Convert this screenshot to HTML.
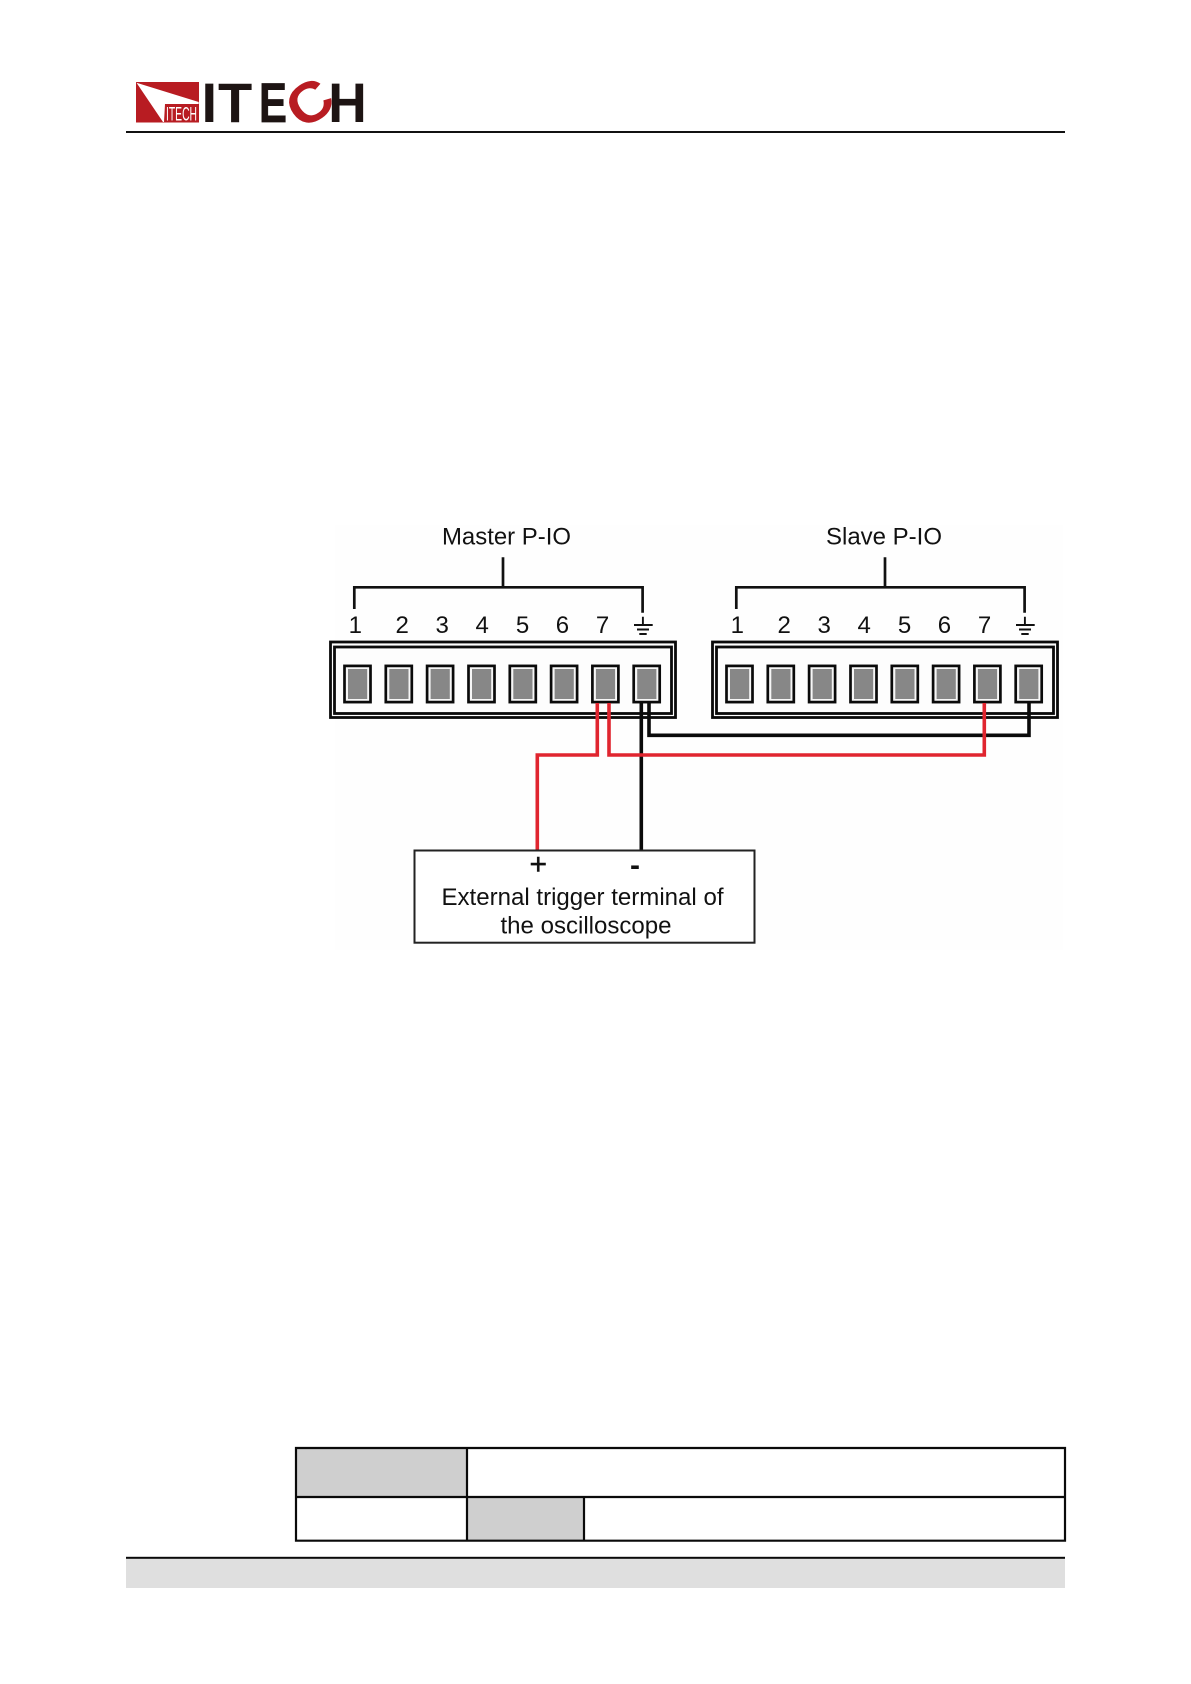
<!DOCTYPE html>
<html>
<head>
<meta charset="utf-8">
<style>
html,body{margin:0;padding:0;background:#fff;}
svg{display:block;}
text{font-family:"Liberation Sans",sans-serif;fill:#111;}
</style>
</head>
<body>
<svg width="1191" height="1684" viewBox="0 0 1191 1684" xmlns="http://www.w3.org/2000/svg">
<defs>
<g id="pin">
  <rect x="1.2" y="1.2" width="26" height="36.2" fill="#f6f6f6" stroke="#0a0a0a" stroke-width="2.7"/>
  <rect x="4.7" y="4.3" width="19.2" height="30" fill="#878787"/>
</g>
<g id="conn">
  <rect x="330.5" y="642" width="345" height="75.5" fill="#fdfdfd" stroke="#0a0a0a" stroke-width="2.8"/>
  <rect x="334.5" y="647" width="337" height="66.5" fill="#fdfdfd" stroke="#0a0a0a" stroke-width="2.8"/>
  <use href="#pin" x="343.3" y="664.7"/>
  <use href="#pin" x="384.6" y="664.7"/>
  <use href="#pin" x="425.9" y="664.7"/>
  <use href="#pin" x="467.3" y="664.7"/>
  <use href="#pin" x="508.6" y="664.7"/>
  <use href="#pin" x="549.9" y="664.7"/>
  <use href="#pin" x="591.2" y="664.7"/>
  <use href="#pin" x="632.5" y="664.7"/>
  <path d="M354.3 609V587.3H642.6V612.7M503 557.3V587.3" fill="none" stroke="#111" stroke-width="2.7"/>
  <path d="M642.9 616.7V625M634 625H652.7M637 629.5H649M639.3 634H646.7" fill="none" stroke="#111" stroke-width="1.9"/>
  <g font-size="24" text-anchor="middle">
    <text x="355.3" y="632.8">1</text>
    <text x="402.2" y="632.8">2</text>
    <text x="442.2" y="632.8">3</text>
    <text x="482.2" y="632.8">4</text>
    <text x="522.5" y="632.8">5</text>
    <text x="562.4" y="632.8">6</text>
    <text x="602.5" y="632.8">7</text>
  </g>
</g>
</defs>

<rect width="1191" height="1684" fill="#fff"/>
<rect x="335" y="525" width="728" height="425" fill="#fefefe"/>

<!-- logo -->
<rect x="136" y="82" width="63" height="40.5" fill="#b81c22"/>
<polygon points="136.5,82.7 198.7,102 198.7,104 165,104 164,122 163,122" fill="#fff"/>
<text x="166" y="120.5" font-size="19" textLength="31" lengthAdjust="spacingAndGlyphs" style="fill:#fff">ITECH</text>
<g font-size="56" font-weight="bold">
  <text x="201.5" y="122" textLength="15.6" lengthAdjust="spacingAndGlyphs" style="fill:#1d1413">I</text>
  <text x="218" y="122" textLength="34.2" lengthAdjust="spacingAndGlyphs" style="fill:#1d1413">T</text>
  <text x="259" y="122" textLength="28" lengthAdjust="spacingAndGlyphs" stroke="#1d1413" stroke-width="0.7" style="fill:#1d1413">E</text>
  <text x="287" y="122" textLength="44" lengthAdjust="spacingAndGlyphs" transform="rotate(-35 309 102)" style="fill:#b81c22">C</text>
  <text x="328.3" y="122" textLength="38.5" lengthAdjust="spacingAndGlyphs" style="fill:#1d1413">H</text>
</g>
<rect x="126" y="131" width="939" height="2" fill="#111"/>

<!-- connector labels -->
<text x="442" y="544.7" font-size="24" textLength="129" lengthAdjust="spacingAndGlyphs">Master P-IO</text>
<text x="826" y="544.7" font-size="24" textLength="116" lengthAdjust="spacingAndGlyphs">Slave P-IO</text>

<!-- connectors -->
<use href="#conn"/>
<use href="#conn" x="382"/>

<!-- wires -->
<path d="M641.3 703V850" fill="none" stroke="#0a0a0a" stroke-width="3.6"/>
<path d="M649 703V735.3H1029V703" fill="none" stroke="#0a0a0a" stroke-width="3.6"/>
<path d="M597.3 703V755H537.3V850" fill="none" stroke="#e0252f" stroke-width="3.6"/>
<path d="M609 703V755H984.3V703" fill="none" stroke="#e0252f" stroke-width="3.6"/>

<!-- oscilloscope box -->
<rect x="414.5" y="850.5" width="340" height="92.2" fill="#fff" stroke="#222" stroke-width="2"/>
<text x="538.3" y="874" font-size="30" text-anchor="middle" stroke="#111" stroke-width="0.5">+</text>
<text x="635" y="875" font-size="30" font-weight="bold" text-anchor="middle">-</text>
<text x="441.5" y="905" font-size="24" textLength="282" lengthAdjust="spacingAndGlyphs">External trigger terminal of</text>
<text x="500.5" y="933.5" font-size="24" textLength="171" lengthAdjust="spacingAndGlyphs">the oscilloscope</text>

<!-- table -->
<rect x="295" y="1448" width="172" height="49" fill="#cfcfcf"/>
<rect x="467" y="1497" width="117" height="43.7" fill="#cfcfcf"/>
<path d="M296 1448H1065V1540.7H296ZM296 1497H1065M467 1448V1540.7M584 1497V1540.7" fill="none" stroke="#0a0a0a" stroke-width="2.2"/>

<!-- footer -->
<rect x="126" y="1558" width="939" height="30" fill="#dfdfdf"/>
<rect x="126" y="1556.8" width="939" height="2" fill="#0a0a0a"/>
</svg>
</body>
</html>
